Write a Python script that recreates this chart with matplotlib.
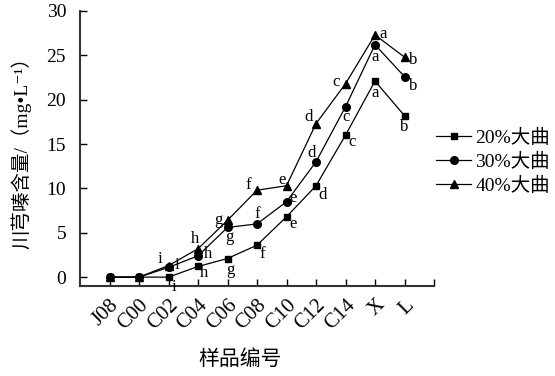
import matplotlib
matplotlib.use('Agg')
import matplotlib.pyplot as plt

plt.rcParams['font.family'] = ['Liberation Serif', 'DejaVu Serif', 'Noto Sans CJK SC']

# 数据
samples = ['J08', 'C00', 'C02', 'C04', 'C06', 'C08', 'C10', 'C12', 'C14', 'X', 'L']
daqu20 = [0, 0, 0, 1.2, 2.1, 3.6, 6.8, 10.3, 16.0, 22.1, 18.2]
daqu30 = [0, 0, 1.1, 2.4, 5.6, 6.0, 8.5, 13.0, 19.2, 26.2, 22.6]
daqu40 = [0, 0, 1.3, 3.2, 6.4, 9.8, 10.3, 17.3, 21.8, 27.3, 24.8]
sig20 = ['', '', 'i', 'h', 'g', 'f', 'e', 'd', 'c', 'a', 'b']
sig30 = ['', '', 'i', 'h', 'g', 'f', 'e', 'd', 'c', 'a', 'b']
sig40 = ['', '', 'i', 'h', 'g', 'f', 'e', 'd', 'c', 'a', 'b']

# 字母标注偏移 (points)
off20 = [None, None, (4, -7), (4.5, -5), (2, -8), (4, -6), (5, -5), (5, -6.5), (4.5, -5), (0, -8.5), (0, -8)]
off30 = [None, None, (6, 2), (7, 1.5), (1.5, -7), (0, 7), (5, 3), (-3, 6), (0.5, -7), (0, -8.5), (6, -6.5)]
off40 = [None, None, (-6.5, 5), (-2, 7), (-6.5, 0.5), (-6, 3.5), (-3, 4.5), (-5, 4.5), (-6.5, 1), (6, 0.5), (6, -2)]

x = list(range(len(samples)))

fig = plt.figure(figsize=(5.55, 3.76), dpi=100)
ax = fig.add_axes([80 / 555, 1 - 286 / 376, 354 / 555, 275 / 376])

ax.plot(x, daqu20, color='black', lw=0.9, marker='s', ms=5, label='20%大曲')
ax.plot(x, daqu30, color='black', lw=0.9, marker='o', ms=5.5, label='30%大曲')
ax.plot(x, daqu40, color='black', lw=0.9, marker='^', ms=6, label='40%大曲')

for vals, sig, off in [(daqu20, sig20, off20), (daqu30, sig30, off30), (daqu40, sig40, off40)]:
    for i in x:
        if sig[i]:
            ax.annotate(sig[i], (i, vals[i]), xytext=off[i], textcoords='offset points',
                        ha='center', va='center', fontsize=12)

ax.set_xlim(-1, 11)
ax.set_ylim(-1, 30)
ax.set_yticks([0, 5, 10, 15, 20, 25, 30])
ax.set_xticks(list(range(0, 12)))
ax.set_xticklabels(samples + [''], rotation=45, ha='right', va='top', rotation_mode='anchor')
ax.tick_params(direction='in', length=5, width=1, labelsize=14)
ax.tick_params(axis='x', pad=7, labelsize=15)
ax.tick_params(axis='y', pad=10)

for s in ['top', 'right']:
    ax.spines[s].set_visible(False)
for s in ['left', 'bottom']:
    ax.spines[s].set_linewidth(1.5)
    ax.spines[s].set_color('#333333')

ax.set_ylabel('川芎嗪含量/（mg•L⁻¹）', fontsize=14, labelpad=11)
ax.set_xlabel('样品编号', fontsize=15)
ax.xaxis.set_label_coords(0.452, -0.235)

ax.legend(loc='upper left', bbox_to_anchor=(0.985, 0.6), frameon=False, fontsize=14,
          handlelength=1.8, handletextpad=0.2, labelspacing=0.3, borderaxespad=0)

fig.savefig('out.png', dpi=100)
